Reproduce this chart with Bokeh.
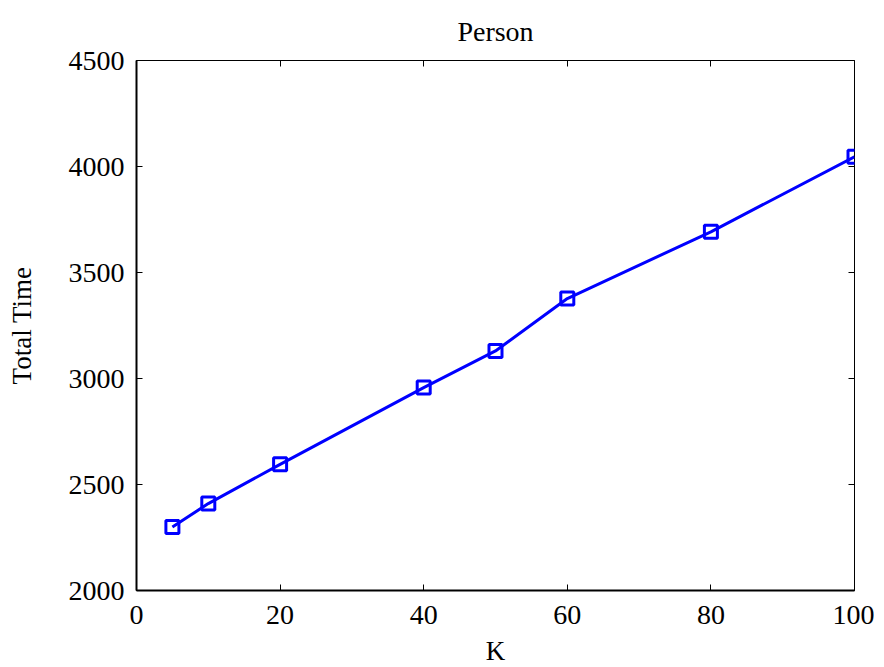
from bokeh.plotting import figure
from bokeh.models import FixedTicker, LinearAxis, Range1d
from bokeh.embed import file_html
from bokeh.resources import INLINE

k_values = [5, 10, 20, 40, 50, 60, 80, 100]
total_time = [2300, 2410, 2595, 2957, 3130, 3377, 3692, 4046]
x_ticks = [0, 20, 40, 60, 80, 100]
y_ticks = [2000, 2500, 3000, 3500, 4000, 4500]

FONT = "Liberation Serif"

p = figure(frame_width=718, frame_height=530, output_backend="svg", toolbar_location=None,
           x_range=Range1d(0, 100), y_range=Range1d(2000, 4500),
           min_border_left=136, min_border_right=20, min_border_top=60,
           min_border_bottom=60, title="Person")

p.background_fill_color = "white"
p.border_fill_color = "white"
p.outline_line_color = "black"
p.outline_line_width = 1
p.xgrid.visible = False
p.ygrid.visible = False

p.title.text_font = FONT
p.title.text_font_size = "28px"
p.title.text_font_style = "normal"
p.title.align = "center"
p.title.vertical_align = "top"
p.title.text_color = "black"
p.title.standoff = 24

p.xaxis.axis_label = "K"
p.yaxis.axis_label = "Total Time"
p.xaxis.ticker = FixedTicker(ticks=x_ticks)
p.yaxis.ticker = FixedTicker(ticks=y_ticks)

for ax in [p.xaxis[0], p.yaxis[0]]:
    ax.major_tick_in = 6
    ax.major_tick_out = 0
    ax.minor_tick_line_color = None
    ax.axis_line_color = "black"
    ax.axis_line_width = 2
    ax.major_tick_line_color = "black"
    ax.major_label_text_font = FONT
    ax.major_label_text_font_size = "28px"
    ax.major_label_text_color = "black"
    ax.axis_label_text_font = FONT
    ax.axis_label_text_font_size = "27px"
    ax.axis_label_text_font_style = "normal"
    ax.axis_label_text_color = "black"

p.xaxis.major_label_standoff = 15
p.xaxis.axis_label_standoff = 9
p.yaxis.major_label_standoff = 12
p.yaxis.axis_label_standoff = 29

top = LinearAxis(ticker=FixedTicker(ticks=x_ticks), major_label_text_font_size="1px",
                 major_label_text_color=None,
                 major_tick_in=6, major_tick_out=0, minor_tick_line_color=None,
                 axis_line_color=None, major_label_standoff=0)
right = LinearAxis(ticker=FixedTicker(ticks=y_ticks), major_label_text_font_size="1px",
                   major_label_text_color=None,
                   major_tick_in=6, major_tick_out=0, minor_tick_line_color=None,
                   axis_line_color=None, major_label_standoff=0)
p.add_layout(top, "above")
p.add_layout(right, "right")

p.line(k_values, total_time, line_color="#0000ff", line_width=3)
p.scatter(k_values, total_time, marker="square", size=13, fill_color=None,
          line_color="#0000ff", line_width=3)

open("out.html", "w").write(file_html(p, INLINE))
